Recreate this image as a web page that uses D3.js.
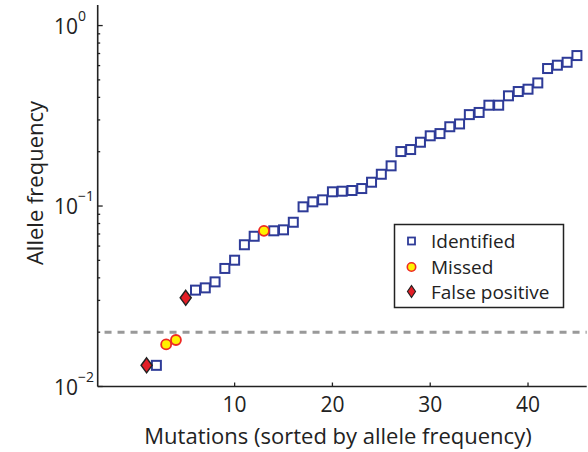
<html>
<head>
<script src="https://d3js.org/d3.v7.min.js"></script>
<style>
body { margin: 0; background: white; }
svg text { font-family: "Open Sans", sans-serif; fill: #222; }
</style>
</head>
<body>
<svg width="588" height="452"></svg>
<script>
// mutation index (sorted by allele frequency) and allele frequency, per class
var identifiedX = [2, 6, 7, 8, 9, 10, 11, 12, 14, 15, 16, 17, 18, 19, 20, 21, 22, 23, 24, 25,
    26, 27, 28, 29, 30, 31, 32, 33, 34, 35, 36, 37, 38, 39, 40, 41, 42, 43, 44, 45];
var identifiedY = [0.0131, 0.0342, 0.0352, 0.038, 0.0451, 0.0501, 0.061, 0.068, 0.0729, 0.0738,
    0.0813, 0.099, 0.1055, 0.1082, 0.1199, 0.1208, 0.1219, 0.125, 0.1355, 0.150,
    0.167, 0.2004, 0.2056, 0.2257, 0.245, 0.252, 0.275, 0.285, 0.321, 0.330,
    0.362, 0.362, 0.408, 0.431, 0.444, 0.481, 0.578, 0.603, 0.626, 0.682];
var missedX = [3, 4, 13];
var missedY = [0.0171, 0.0181, 0.0729];
var falsePosX = [1, 5];
var falsePosY = [0.0131, 0.031];
var threshold = 0.02;
var xTicks = [10, 20, 30, 40];
var yMajor = [0.01, 0.1, 1];
var yExponents = ["\u22122", "\u22121", "0"];
var legendLabels = ["Identified", "Missed", "False positive"];

var svg = d3.select("svg");
var x = d3.scaleLinear().domain([-4, 46]).range([97.7, 586.7]);
var y = d3.scaleLog().domain([0.01, 1.3]).range([386.5, 5]);

// y minor ticks
var yMinor = [];
[0.01, 0.1, 1].forEach(function(d) {
    for (var k = 2; k <= 9; k++) {
        if (d * k <= 1.3) yMinor.push(d * k);
    }
});

// axes lines
svg.append("line")
    .attr("x1", x(-4)).attr("x2", x(-4))
    .attr("y1", y(1.3)).attr("y2", y(0.01))
    .attr("stroke", "#222").attr("stroke-width", 1.6);
svg.append("line")
    .attr("x1", x(-4)).attr("x2", x(46))
    .attr("y1", y(0.01)).attr("y2", y(0.01))
    .attr("stroke", "#222").attr("stroke-width", 1.6);

svg.selectAll(".ymaj").data(yMajor).enter().append("line")
    .attr("x1", x(-4)).attr("x2", x(-4) + 5)
    .attr("y1", function(d) { return y(d); })
    .attr("y2", function(d) { return y(d); })
    .attr("stroke", "#222").attr("stroke-width", 1.3);
svg.selectAll(".ymin").data(yMinor).enter().append("line")
    .attr("x1", x(-4)).attr("x2", x(-4) + 2.5)
    .attr("y1", function(d) { return y(d); })
    .attr("y2", function(d) { return y(d); })
    .attr("stroke", "#222").attr("stroke-width", 1.3);

svg.selectAll(".xt").data(xTicks).enter().append("line")
    .attr("x1", function(d) { return x(d); })
    .attr("x2", function(d) { return x(d); })
    .attr("y1", y(0.01)).attr("y2", y(0.01) - 4)
    .attr("stroke", "#222").attr("stroke-width", 1.3);

// tick labels
svg.selectAll(".xl").data(xTicks).enter().append("text")
    .attr("x", function(d) { return x(d); })
    .attr("y", 412)
    .attr("text-anchor", "middle")
    .attr("font-size", 21)
    .text(function(d) { return d; });

svg.selectAll(".yl").data(yMajor).enter().append("text")
    .attr("x", 78)
    .attr("y", function(d) { return y(d) + 8; })
    .attr("text-anchor", "end")
    .attr("font-size", 21)
    .text("10");
svg.selectAll(".ye").data(yMajor).enter().append("text")
    .attr("x", 78)
    .attr("y", function(d) { return y(d) - 5; })
    .attr("font-size", 14)
    .text(function(d, i) { return yExponents[i]; });

// axis titles
svg.append("text")
    .attr("transform", "translate(43,183) rotate(-90)")
    .attr("text-anchor", "middle")
    .attr("font-size", 22)
    .text("Allele frequency");
svg.append("text")
    .attr("x", 338).attr("y", 444)
    .attr("text-anchor", "middle")
    .attr("font-size", 22)
    .text("Mutations (sorted by allele frequency)");

// detection threshold
svg.append("line")
    .attr("x1", x(-3.3)).attr("x2", x(46))
    .attr("y1", y(threshold)).attr("y2", y(threshold))
    .attr("stroke", "#999").attr("stroke-width", 3)
    .attr("stroke-dasharray", "7,6");

// markers
var diamond = function(w, h) { return "M0," + (-h) + "L" + w + ",0L0," + h + "L" + (-w) + ",0Z"; };

svg.selectAll(".sq").data(identifiedX).enter().append("rect")
    .attr("x", function(d) { return x(d) - 4.5; })
    .attr("y", function(d, i) { return y(identifiedY[i]) - 4.5; })
    .attr("width", 9).attr("height", 9)
    .attr("fill", "white")
    .attr("stroke", "#2e3b98").attr("stroke-width", 2);

svg.selectAll(".ms").data(missedX).enter().append("circle")
    .attr("cx", function(d) { return x(d); })
    .attr("cy", function(d, i) { return y(missedY[i]); })
    .attr("r", 5)
    .attr("fill", "#fff200")
    .attr("stroke", "#ee2a24").attr("stroke-width", 1.8);

svg.selectAll(".fp").data(falsePosX).enter().append("path")
    .attr("transform", function(d, i) { return "translate(" + x(d) + "," + y(falsePosY[i]) + ")"; })
    .attr("d", diamond(5.5, 7.5))
    .attr("fill", "#e31e26")
    .attr("stroke", "#222").attr("stroke-width", 1.5);

// legend
svg.append("rect")
    .attr("x", 394.5).attr("y", 224.5)
    .attr("width", 169).attr("height", 83)
    .attr("fill", "white")
    .attr("stroke", "#222").attr("stroke-width", 1.5);

var ly = [241, 267, 291.5];
svg.append("rect")
    .attr("x", 408).attr("y", ly[0] - 3.5)
    .attr("width", 7).attr("height", 7)
    .attr("fill", "white")
    .attr("stroke", "#2e3b98").attr("stroke-width", 1.8);
svg.append("circle")
    .attr("cx", 411.5).attr("cy", ly[1])
    .attr("r", 4.2)
    .attr("fill", "#fff200")
    .attr("stroke", "#ee2a24").attr("stroke-width", 1.6);
svg.append("path")
    .attr("transform", "translate(411.5," + ly[2] + ")")
    .attr("d", diamond(4, 6))
    .attr("fill", "#e31e26")
    .attr("stroke", "#222").attr("stroke-width", 1.2);

svg.selectAll(".lt").data(legendLabels).enter().append("text")
    .attr("x", 431)
    .attr("y", function(d, i) { return ly[i] + 7; })
    .attr("font-size", 19)
    .text(function(d) { return d; });
</script>
</body>
</html>
